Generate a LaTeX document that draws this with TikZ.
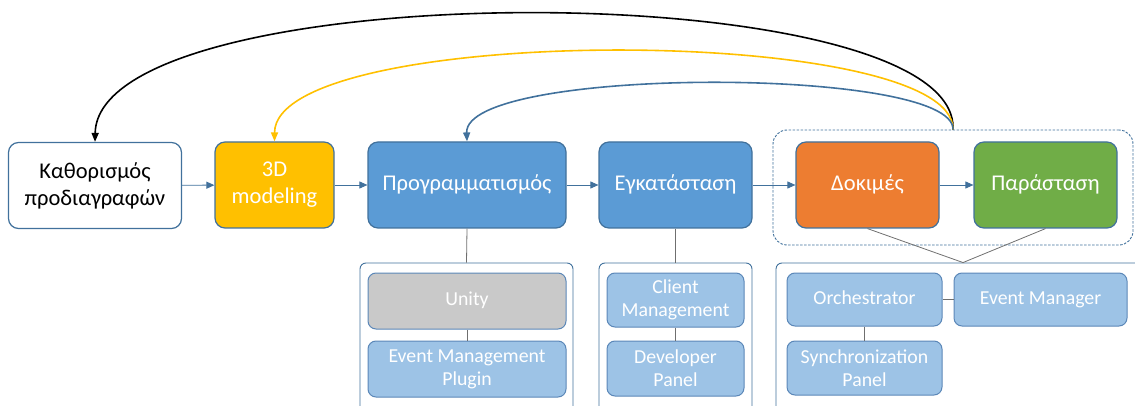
\documentclass[tikz,border=0pt]{standalone}
\usepackage{fontspec}
\setmainfont{Carlito}
\usetikzlibrary{arrows.meta}
\definecolor{mainblue}{HTML}{5B9BD5}
\definecolor{edgeblue}{HTML}{41719C}
\definecolor{lightblue}{HTML}{9DC3E6}
\definecolor{subedge}{HTML}{5B87B8}
\definecolor{unitygray}{HTML}{C9C9C9}
\definecolor{orangebox}{HTML}{ED7D31}
\definecolor{greenbox}{HTML}{70AD47}
\definecolor{yellowbox}{HTML}{FFC000}
\definecolor{treeline}{HTML}{6F6F6F}
\tikzset{
  stage/.style={draw=edgeblue, line width=1.2pt, rounded corners=10pt,
    minimum width=#1, minimum height=86pt, inner sep=0pt, align=center,
    text=white, font=\fontsize{22.5}{27}\selectfont},
  part/.style={draw=subedge, line width=1pt, fill=lightblue, rounded corners=8pt,
    minimum width=#1, inner sep=0pt, align=center,
    text=white, font=\fontsize{19.8}{23}\selectfont},
  holder/.style={draw=edgeblue, line width=0.9pt, rounded corners=6pt,
    minimum width=#1, minimum height=157pt, inner sep=0pt},
  flow/.style={draw=edgeblue, line width=0.9pt,
    -{Triangle[length=8pt,width=7pt]}},
  tie/.style={draw=treeline, line width=0.8pt},
  loop/.style={line width=1.6pt, -{Triangle[length=9pt,width=7pt]}}
}
\begin{document}
\begin{tikzpicture}[x=1pt, y=-1pt]
\useasboundingbox (0,0) rectangle (1135,406);
\clip (0,0) rectangle (1135,406);

% dashed frame around the test and performance stages
\node[draw=edgeblue, line width=0.9pt, dash pattern=on 2.5pt off 1.5pt,
  rounded corners=14pt, minimum width=360pt, minimum height=115pt, inner sep=0pt]
  (group) at (953,187.5) {};

% main workflow stages
\node[stage=173pt, fill=white, text=black] (spec) at (95,185.5) {Καθορισμός\\προδιαγραφών};
\node[stage=119pt, fill=yellowbox] (model) at (274.5,185) {3D\\modeling};
\node[stage=198pt, fill=mainblue] (prog) at (467,185) {\strut Προγραμματισμός};
\node[stage=153pt, fill=mainblue] (inst) at (675.5,185) {\strut Εγκατάσταση};
\node[stage=143pt, fill=orangebox] (test) at (867.5,185) {\strut Δοκιμές};
\node[stage=143pt, fill=greenbox] (show) at (1045.5,185) {\strut Παράσταση};

% forward arrows between stages
\draw[flow] (spec) -- (model);
\draw[flow] (model) -- (prog);
\draw[flow] (prog) -- (inst);
\draw[flow] (inst) -- (test);
\draw[flow] (test) -- (show);

% component holders under the stages
\node[holder=213pt] (hold1) at (466.5,341.5) {};
\node[holder=153pt] (hold2) at (675.5,341.5) {};
\node[holder=374pt] (hold3) at (963,341.5) {};

% components
\node[part=198pt, minimum height=56pt, fill=unitygray] (unity) at (467,301) {\strut Unity};
\node[part=198pt, minimum height=56pt] (plugin) at (467,369) {Event Management\\Plugin};
\node[part=137pt, minimum height=54pt] (client) at (675.5,300) {Client\\Management};
\node[part=137pt, minimum height=55pt] (dev) at (675.5,368.5) {Developer\\Panel};
\node[part=155pt, minimum height=53pt] (orch) at (864.5,299.5) {\strut Orchestrator};
\node[part=173pt, minimum height=53pt] (evm) at (1040.5,299.5) {\strut Event Manager};
\node[part=155pt, minimum height=54pt] (sync) at (864.5,368) {Synchronization\\Panel};

% structural ties
\draw[tie] (prog.south) -- (hold1.north);
\draw[tie] (inst.south) -- (hold2.north);
\draw[tie] (test.south) -- (hold3.north);
\draw[tie] (show.south) -- (hold3.north);
\draw[tie] (unity) -- (plugin);
\draw[tie] (client) -- (dev);
\draw[tie] (orch) -- (evm);
\draw[tie] (orch) -- (sync);

% feedback loops back from the test/performance group
\draw[loop, black] (group.north) .. controls (960,-27) and (98,-27) .. (spec.north);
\draw[loop, yellowbox] (group.north) .. controls (955,23) and (275,23) .. (model.north);
\draw[loop, edgeblue] (group.north) .. controls (955,66) and (464,66) .. (prog.north);
\end{tikzpicture}
\end{document}
